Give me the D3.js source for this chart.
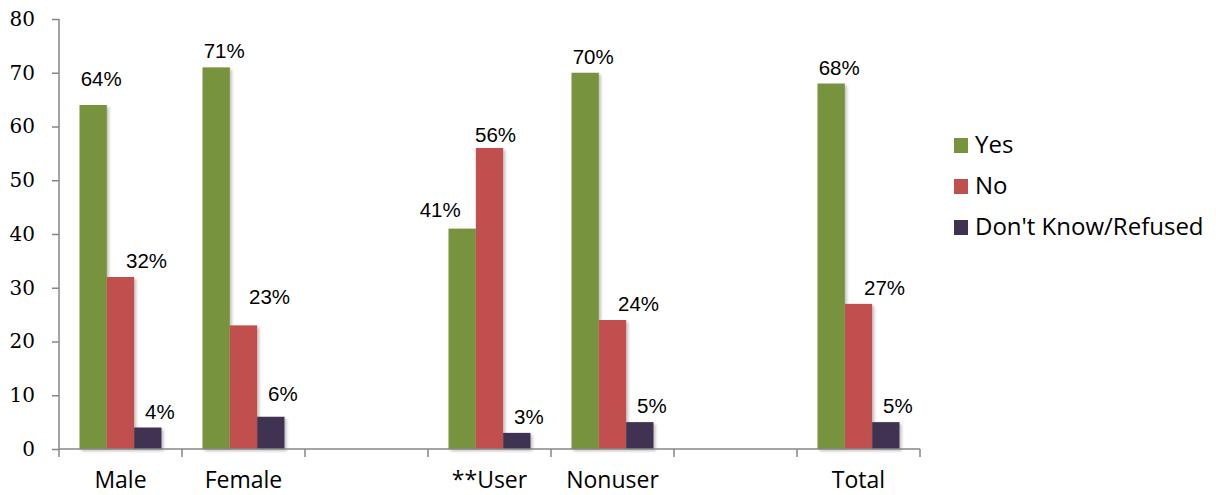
<!DOCTYPE html>
<html>
<head>
<meta charset="utf-8">
<script src="https://cdn.jsdelivr.net/npm/d3@7"></script>
<style>
  body { margin: 0; background: #fff; }
  svg { display: block; }
</style>
</head>
<body>
<svg id="chart" width="1216" height="495"></svg>
<script>
// categories (blank slots are the gaps between groups)
var categories = ["Male", "Female", "", "**User", "Nonuser", " ", "Total"];
var seriesNames = ["Yes", "No", "Don't Know/Refused"];
var yesValues = [64, 71, null, 41, 70, null, 68];
var noValues = [32, 23, null, 56, 24, null, 27];
var dkValues = [4, 6, null, 3, 5, null, 5];
var yTicks = [0, 10, 20, 30, 40, 50, 60, 70, 80];

var colors = ["#77933c", "#c0504d", "#403151"];

var margin = {top: 19, left: 59, right: 296, bottom: 46};
var svg = d3.select("#chart"),
    width = +svg.attr("width") - margin.left - margin.right,
    height = +svg.attr("height") - margin.top - margin.bottom,
    g = svg.append("g").attr("transform", "translate(" + margin.left + "," + margin.top + ")");

var defs = svg.append("defs");
defs.append("filter").attr("id", "shadow")
    .attr("x", "-20%").attr("y", "-20%").attr("width", "150%").attr("height", "150%")
  .append("feDropShadow")
    .attr("dx", 2).attr("dy", 2).attr("stdDeviation", 1.5)
    .attr("flood-color", "#000").attr("flood-opacity", 0.25);

var x0 = d3.scaleBand().domain(categories).range([0, width]).padding(0);
var x1 = d3.scaleBand().domain(seriesNames).range([0, x0.bandwidth()])
    .paddingInner(0).paddingOuter(0.75);
var y = d3.scaleLinear().domain([0, 80]).range([height, 0]);
var z = d3.scaleOrdinal().domain(seriesNames).range(colors);

var data = categories.map(function(c, i) {
  return {cat: c, values: [yesValues[i], noValues[i], dkValues[i]]};
});

// label offsets: default per series, plus a few hand-placed ones
var labelDx = [8, 26, 12];
var labelGap = 9;
var nudge = {
  "Male|0": [0, -10],
  "Female|1": [0, -12],
  "Female|2": [0, -7],
  "**User|0": [-30, -3],
  "**User|1": [-20, 3]
};

// y axis
var yAxis = g.append("g")
    .call(d3.axisLeft(y).tickValues(yTicks).tickSize(7).tickPadding(17));
yAxis.select(".domain").attr("stroke", "#868686").attr("stroke-width", 1.5)
    .attr("d", "M0," + y(80) + "V" + y(0));
yAxis.selectAll(".tick line").attr("stroke", "#868686").attr("stroke-width", 1.5);
yAxis.selectAll(".tick text")
    .attr("font-family", "'DejaVu Serif', serif")
    .attr("font-size", 20)
    .attr("fill", "#000");

// bars
var groups = g.append("g").selectAll("g")
  .data(data)
  .enter().append("g")
    .attr("transform", function(d) { return "translate(" + x0(d.cat) + ",0)"; });

groups.selectAll("rect")
  .data(function(d) {
    return seriesNames.map(function(s, j) { return {cat: d.cat, key: s, j: j, value: d.values[j]}; })
      .filter(function(e) { return e.value != null; });
  })
  .enter().append("rect")
    .attr("x", function(d) { return x1(d.key); })
    .attr("y", function(d) { return y(d.value); })
    .attr("width", x1.bandwidth())
    .attr("height", function(d) { return height - y(d.value); })
    .attr("fill", function(d) { return z(d.key); })
    .attr("filter", "url(#shadow)");

groups.selectAll("text.val")
  .data(function(d) {
    return seriesNames.map(function(s, j) { return {cat: d.cat, key: s, j: j, value: d.values[j]}; })
      .filter(function(e) { return e.value != null; });
  })
  .enter().append("text")
    .attr("class", "val")
    .attr("x", function(d) {
      var n = nudge[d.cat + "|" + d.j] || [0, 0];
      return x1(d.key) + x1.bandwidth() / 2 + labelDx[d.j] + n[0];
    })
    .attr("y", function(d) {
      var n = nudge[d.cat + "|" + d.j] || [0, 0];
      return y(d.value) - labelGap + n[1];
    })
    .attr("text-anchor", "middle")
    .attr("font-family", "'Liberation Sans', Arial, sans-serif")
    .attr("font-size", 20.5)
    .attr("fill", "#000")
    .text(function(d) { return d.value + "%"; });

// x axis with ticks at band edges
var xAxisG = g.append("g").attr("transform", "translate(0," + height + ")");
xAxisG.append("line")
    .attr("x1", 0).attr("x2", width)
    .attr("stroke", "#868686").attr("stroke-width", 1.5);
var edges = categories.map(function(c) { return x0(c); }).concat([width]);
xAxisG.selectAll("line.edge")
  .data(edges)
  .enter().append("line")
    .attr("class", "edge")
    .attr("x1", function(d) { return d; }).attr("x2", function(d) { return d; })
    .attr("y1", 0).attr("y2", 8)
    .attr("stroke", "#868686").attr("stroke-width", 1.5);
xAxisG.selectAll("text")
  .data(categories.filter(function(c) { return c.trim() !== ""; }))
  .enter().append("text")
    .attr("x", function(d) { return x0(d) + x0.bandwidth() / 2; })
    .attr("y", 39)
    .attr("text-anchor", "middle")
    .attr("font-family", "'Open Sans', sans-serif")
    .attr("font-size", 23)
    .attr("fill", "#000")
    .text(function(d) { return d; });

// legend
var legend = svg.append("g")
    .attr("transform", "translate(954,138)")
  .selectAll("g")
  .data(seriesNames)
  .enter().append("g")
    .attr("transform", function(d, i) { return "translate(0," + i * 41 + ")"; });

legend.append("rect")
    .attr("width", 14)
    .attr("height", 15)
    .attr("fill", z);

legend.append("text")
    .attr("x", 21)
    .attr("y", 15)
    .attr("font-family", "'Open Sans', sans-serif")
    .attr("font-size", 24)
    .attr("fill", "#000")
    .text(function(d) { return d; });
</script>
</body>
</html>
